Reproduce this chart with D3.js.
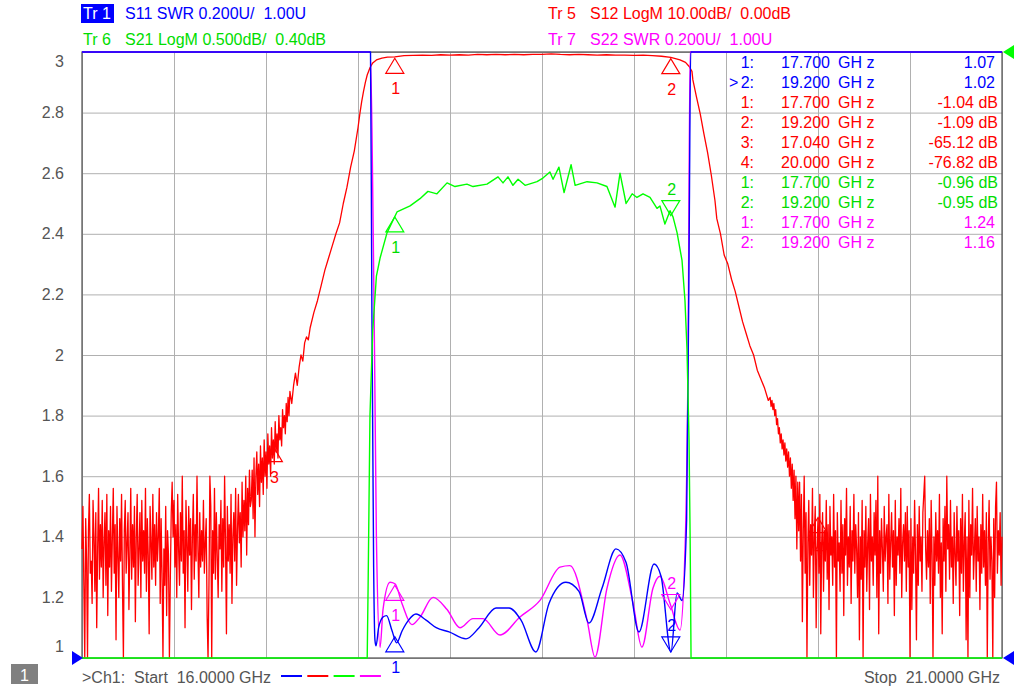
<!DOCTYPE html>
<html>
<head>
<meta charset="utf-8">
<script src="https://cdn.jsdelivr.net/npm/d3@7/dist/d3.min.js"></script>
<style>
body { margin: 0; background: #fff; }
svg text { font-family: "Liberation Sans", Arial, sans-serif; font-size: 16px; white-space: pre; }
</style>
</head>
<body>
<script>
var w = 1014;
var h = 689;
var plotLeft = 82, plotRight = 1002, plotTop = 52, plotBottom = 658;

// sweep
var startGHz = 16, stopGHz = 21;
var noiseStep = 0.005;
var freqGrid = [16, 16.5, 17, 17.5, 18, 18.5, 19, 19.5, 20, 20.5, 21];
var swrTicks = [1, 1.2, 1.4, 1.6, 1.8, 2, 2.2, 2.4, 2.6, 2.8, 3];
var swrTickLabels = ['1', '1.2', '1.4', '1.6', '1.8', '2', '2.2', '2.4', '2.6', '2.8', '3'];

// Tr1 S11 SWR  [GHz, SWR]
var s11 = [
  [16.000, 3.80], [17.560, 3.60], [17.568, 3.00], [17.575, 2.20], [17.585, 1.30], [17.592, 1.06],
  [17.598, 1.04], [17.612, 1.10], [17.636, 1.135], [17.655, 1.14], [17.685, 1.09], [17.710, 1.05],
  [17.740, 1.09], [17.775, 1.125], [17.815, 1.145], [17.870, 1.125], [17.925, 1.10], [17.995, 1.086],
  [18.087, 1.063], [18.158, 1.10], [18.250, 1.165], [18.321, 1.165], [18.386, 1.125], [18.467, 1.02],
  [18.538, 1.18], [18.630, 1.25], [18.701, 1.22], [18.755, 1.115], [18.826, 1.23], [18.902, 1.36],
  [18.957, 1.315], [19.027, 1.086], [19.109, 1.31], [19.147, 1.27], [19.201, 1.02], [19.234, 1.215],
  [19.261, 1.19], [19.286, 1.455], [19.300, 2.40], [19.308, 3.00], [19.320, 3.60], [21.000, 3.80]
];

// Tr7 S22 SWR  [GHz, SWR]
var s22 = [
  [16.000, 3.80], [17.555, 3.60], [17.565, 3.00], [17.590, 2.00], [17.600, 1.40], [17.620, 1.035],
  [17.636, 1.16], [17.674, 1.25], [17.701, 1.245], [17.739, 1.18], [17.793, 1.11], [17.837, 1.135],
  [17.908, 1.20], [17.984, 1.16], [18.054, 1.10], [18.125, 1.13], [18.179, 1.13], [18.272, 1.076],
  [18.380, 1.135], [18.489, 1.19], [18.598, 1.30], [18.652, 1.305], [18.745, 1.125], [18.788, 1.003],
  [18.853, 1.23], [18.924, 1.34], [18.995, 1.18], [19.043, 1.036], [19.103, 1.23], [19.141, 1.27],
  [19.196, 1.18], [19.250, 1.092], [19.277, 1.35], [19.294, 2.00], [19.305, 3.00], [19.315, 3.60],
  [21.000, 3.80]
];

// Tr6 S21 LogM  [GHz, dB]
var s21 = [
  [16.000, -20], [17.550, -20], [17.555, -4.0], [17.565, -2.6], [17.580, -1.9], [17.600, -1.45],
  [17.620, -1.30], [17.658, -1.09], [17.712, -0.92], [17.783, -0.87], [17.837, -0.81], [17.880, -0.75],
  [17.929, -0.77], [17.984, -0.68], [18.027, -0.71], [18.092, -0.69], [18.125, -0.71], [18.201, -0.69],
  [18.261, -0.63], [18.288, -0.68], [18.315, -0.63], [18.342, -0.70], [18.370, -0.65], [18.408, -0.70],
  [18.473, -0.67], [18.505, -0.64], [18.543, -0.59], [18.560, -0.65], [18.592, -0.55], [18.620, -0.76],
  [18.658, -0.53], [18.680, -0.70], [18.745, -0.67], [18.799, -0.68], [18.853, -0.71], [18.897, -0.88],
  [18.924, -0.60], [18.957, -0.85], [18.990, -0.77], [19.016, -0.80], [19.049, -0.77], [19.087, -0.80],
  [19.125, -0.89], [19.141, -0.87], [19.168, -1.02], [19.196, -0.91], [19.212, -0.96], [19.234, -1.09],
  [19.261, -1.32], [19.277, -1.65], [19.288, -2.05], [19.299, -2.80], [19.305, -3.60], [19.310, -20],
  [21.000, -20]
];

// Tr5 S12 LogM, dB. noise floor below the band, from 16.000 GHz every 5 MHz
var s12Low = [
  -82, -75, -88, -100, -77, -84, -100, -79, -73, -86,
  -84, -91, -74, -80, -89, -76, -95, -82, -72, -87,
  -78, -85, -74, -90, -81, -76, -88, -73, -93, -79,
  -85, -75, -89, -80, -72, -86, -78, -97, -75, -83,
  -90, -77, -84, -73, -88, -100, -79, -74, -86, -81,
  -76, -92, -83, -72, -87, -78, -85, -75, -94, -80,
  -73, -88, -82, -76, -90, -74, -84, -79, -86, -72,
  -89, -77, -83, -96, -75, -81, -87, -73, -85, -78,
  -88, -76, -84, -80, -72, -91, -77, -86, -100, -82,
  -88, -75, -93, -79, -83, -100, -87, -76, -71, -80,
  -74, -85, -78, -90, -73, -82, -88, -76, -84, -70,
  -86, -79, -95, -74, -81, -89, -75, -83, -77, -92,
  -80, -73, -87, -78, -84, -70, -82, -90, -76, -85,
  -79, -84, -74, -86, -81, -77, -93, -100, -88, -70,
  -75, -100, -79, -86, -72, -87, -76, -83, -90, -78,
  -82, -74, -89, -77, -85, -70, -81, -96, -75, -84,
  -78, -86, -73, -91, -80, -76, -84, -72, -88, -79,
  -73, -81, -76, -85, -71, -80, -74, -79, -70, -83,
  -72, -78, -69, -75
];
// band edges and passband  [GHz, dB]
var s12Band = [
  [16.920, -74], [16.925, -69], [16.930, -77], [16.935, -67], [16.940, -80], [16.945, -70],
  [16.950, -66], [16.955, -73], [16.960, -68], [16.965, -75], [16.970, -65], [16.975, -71],
  [16.980, -67], [16.985, -73], [16.990, -64], [16.995, -70], [17.000, -66], [17.005, -72],
  [17.010, -63], [17.015, -68], [17.020, -65], [17.025, -70], [17.030, -62], [17.035, -67],
  [17.040, -64], [17.045, -68], [17.050, -61], [17.055, -66], [17.060, -63], [17.065, -67],
  [17.070, -60], [17.075, -64], [17.080, -62], [17.085, -65], [17.090, -59], [17.095, -62],
  [17.100, -60], [17.105, -63], [17.110, -58], [17.115, -61], [17.120, -57], [17.125, -60],
  [17.130, -56], [17.140, -58], [17.150, -55], [17.160, -53], [17.170, -55], [17.180, -52],
  [17.19, -50], [17.20, -51], [17.21, -48], [17.22, -47], [17.23, -47.5], [17.24, -45.5],
  [17.26, -43], [17.28, -41], [17.30, -38.5], [17.32, -36], [17.34, -34], [17.36, -32],
  [17.38, -30], [17.40, -28.2], [17.42, -25], [17.44, -22.3], [17.46, -19], [17.48, -16.3],
  [17.50, -12.5], [17.51, -10.2], [17.52, -8.2], [17.53, -6.5], [17.54, -5.0], [17.55, -3.8],
  [17.565, -2.6], [17.58, -1.8], [17.60, -1.3], [17.63, -1.0], [17.66, -0.85], [17.70, -0.8],
  [17.75, -0.6], [17.80, -0.55], [17.85, -0.5], [17.90, -0.55], [17.95, -0.45], [18.00, -0.5],
  [18.05, -0.45], [18.10, -0.5], [18.15, -0.4], [18.20, -0.45], [18.25, -0.4], [18.30, -0.45],
  [18.35, -0.4], [18.40, -0.45], [18.45, -0.4], [18.50, -0.4], [18.55, -0.3], [18.60, -0.4],
  [18.65, -0.45], [18.70, -0.4], [18.75, -0.45], [18.80, -0.5], [18.85, -0.45], [18.90, -0.5],
  [18.95, -0.5], [19.00, -0.55], [19.05, -0.5], [19.10, -0.6], [19.15, -0.7], [19.20, -0.9],
  [19.22, -1.05], [19.25, -1.3], [19.28, -1.7], [19.30, -2.4], [19.315, -3.2], [19.32, -4.6],
  [19.34, -7.5], [19.36, -10.2], [19.38, -13.5], [19.40, -16.6], [19.42, -20.3], [19.44, -24.5],
  [19.45, -27.5], [19.47, -30], [19.49, -33.5], [19.51, -35], [19.53, -37.5], [19.55, -39.5],
  [19.57, -42], [19.59, -44.5], [19.61, -46.5], [19.63, -48.5], [19.65, -50], [19.67, -52.5],
  [19.69, -54], [19.71, -55.5], [19.73, -57.5], [19.740, -57], [19.745, -58.5], [19.750, -57.5],
  [19.755, -59], [19.760, -58], [19.765, -60], [19.770, -59], [19.775, -61.5], [19.780, -60.5],
  [19.785, -63], [19.790, -62], [19.795, -64.5], [19.800, -63], [19.805, -65.5], [19.810, -64],
  [19.815, -66.5], [19.820, -64.5], [19.825, -67.5], [19.830, -65.5], [19.835, -68.5], [19.840, -66],
  [19.845, -70], [19.850, -67], [19.855, -72], [19.860, -68], [19.865, -74], [19.870, -69],
  [19.875, -77], [19.880, -70], [19.885, -82], [19.890, -71], [19.895, -79]
];
// noise floor above the band, from 19.900 GHz every 5 MHz
var s12High = [
  -71, -84, -73, -94, -79, -70, -86, -76, -100, -81,
  -74, -88, -78, -83, -72, -90, -80, -75, -95, -82,
  -77, -86, -73, -96, -81, -76, -89, -79, -84, -74,
  -87, -78, -92, -75, -83, -80, -88, -73, -85, -79,
  -100, -76, -84, -81, -89, -74, -86, -78, -93, -77,
  -83, -72, -88, -80, -85, -75, -91, -79, -84, -73,
  -86, -78, -82, -90, -76, -97, -80, -87, -74, -100,
  -79, -85, -75, -89, -81, -77, -92, -73, -84, -80,
  -88, -76, -83, -74, -90, -70, -96, -79, -86, -77,
  -82, -89, -75, -84, -80, -78, -91, -73, -87, -81,
  -76, -85, -79, -93, -74, -88, -80, -83, -77, -86,
  -72, -90, -81, -78, -84, -76, -89, -75, -85, -79,
  -100, -77, -92, -80, -86, -74, -83, -97, -78, -88,
  -75, -84, -80, -89, -76, -73, -70, -82, -87, -79,
  -85, -77, -91, -74, -83, -100, -80, -88, -76, -84,
  -79, -86, -73, -90, -81, -96, -77, -84, -75, -89,
  -70, -82, -78, -87, -74, -85, -80, -91, -76, -83,
  -88, -75, -84, -79, -93, -77, -86, -73, -89, -81,
  -76, -97, -80, -100, -74, -90, -78, -83, -72, -87,
  -82, -77, -89, -75, -84, -80, -92, -78, -86, -73,
  -85, -79, -88, -76, -100, -81, -74, -87, -80, -84,
  -100, -77, -90, -75, -71, -86, -79, -83, -76, -88,
  -80
];
var s12 = s12Low.map(function(v, i) { return [startGHz + i * noiseStep, v]; })
  .concat(s12Band)
  .concat(s12High.map(function(v, i) { return [19.9 + i * noiseStep, v]; }));

// markers  [number, GHz, value]
var mkS11 = [[1, 17.7, 1.07], [2, 19.2, 1.02]];
var mkS12 = [[1, 17.7, -1.04], [2, 19.2, -1.09], [3, 17.04, -65.12], [4, 20.0, -76.82]];
var mkS21 = [[1, 17.7, -0.96], [2, 19.2, -0.95]];
var mkS22 = [[1, 17.7, 1.24], [2, 19.2, 1.16]];
var activeMarker = 2;

var blue = '#0000ff', red = '#ff0000', green = '#00ff00', greenText = '#00dd00', magenta = '#ff00ff';
var gray = '#555555';

var svg = d3.select('body')
  .append('svg')
  .attr('width', w)
  .attr('height', h);
svg.append('rect').attr('width', w).attr('height', h).attr('fill', '#fff');

var x = d3.scaleLinear().domain([startGHz, stopGHz]).range([plotLeft, plotRight]);
var ySwr = d3.scaleLinear().domain([1, 3]).range([plotBottom, plotTop]).clamp(true);
var yS21 = d3.scaleLinear().domain([0.4 - 5, 0.4]).range([plotBottom, plotTop]).clamp(true);
var yS12 = d3.scaleLinear().domain([-100, 0]).range([plotBottom, plotTop]).clamp(true);

// grid
svg.append('g')
  .attr('transform', 'translate(0,' + plotBottom + ')')
  .call(d3.axisBottom(x).tickValues(freqGrid).tickSize(-(plotBottom - plotTop)).tickFormat(''))
  .call(function(g) { g.select('.domain').remove(); })
  .call(function(g) { g.selectAll('line').attr('stroke', '#b0b0b0'); });
svg.append('g')
  .attr('transform', 'translate(' + plotLeft + ',0)')
  .call(d3.axisLeft(ySwr).tickValues(swrTicks).tickSize(-(plotRight - plotLeft)).tickFormat(''))
  .call(function(g) { g.select('.domain').remove(); })
  .call(function(g) { g.selectAll('line').attr('stroke', '#b0b0b0'); });

svg.append('rect')
  .attr('x', plotLeft).attr('y', plotTop)
  .attr('width', plotRight - plotLeft).attr('height', plotBottom - plotTop)
  .attr('fill', 'none').attr('stroke', '#505050').attr('stroke-width', 1.2);

// y labels of the active trace
svg.append('g')
  .attr('transform', 'translate(64,0)')
  .call(d3.axisLeft(ySwr).tickValues(swrTicks).tickSize(0).tickPadding(0)
    .tickFormat(function(d, i) { return swrTickLabels[i]; }))
  .call(function(g) { g.select('.domain').remove(); })
  .call(function(g) {
    g.selectAll('text')
      .attr('fill', gray)
      .style('font-size', '16px')
      .attr('y', function(d) { return d === 3 ? 9 : (d === 1 ? -12 : 0); });
  });

// traces
var traces = [
  { data: s12, y: yS12, color: red, curve: d3.curveLinear, width: 1.3 },
  { data: s22, y: ySwr, color: magenta, curve: d3.curveMonotoneX, width: 1.4 },
  { data: s11, y: ySwr, color: blue, curve: d3.curveMonotoneX, width: 1.4 },
  { data: s21, y: yS21, color: green, curve: d3.curveLinear, width: 1.4 }
];
traces.forEach(function(t) {
  var line = d3.line()
    .x(function(d) { return x(d[0]); })
    .y(function(d) { return t.y(d[1]); })
    .curve(t.curve);
  svg.append('path')
    .datum(t.data)
    .attr('d', line)
    .attr('fill', 'none')
    .attr('stroke', t.color)
    .attr('stroke-width', t.width)
    .attr('stroke-linejoin', 'round');
});

// marker triangles
var markerSets = [
  { mk: mkS12, y: yS12, color: red, text: red },
  { mk: mkS22, y: ySwr, color: magenta, text: magenta },
  { mk: mkS11, y: ySwr, color: blue, text: blue },
  { mk: mkS21, y: yS21, color: green, text: greenText }
];
markerSets.forEach(function(s) {
  var g = svg.append('g');
  g.selectAll('path')
    .data(s.mk)
    .enter()
    .append('path')
    .attr('d', function(d) {
      var px = x(d[1]), py = s.y(d[2]);
      var down = d[0] === activeMarker && py - 30 > plotTop;
      var k = down ? -15 : 15;
      return 'M' + px + ',' + py + 'L' + (px - 9) + ',' + (py + k) + 'L' + (px + 9) + ',' + (py + k) + 'Z';
    })
    .attr('fill', 'none')
    .attr('stroke', s.color)
    .attr('stroke-width', 1.2);
  g.selectAll('text')
    .data(s.mk)
    .enter()
    .append('text')
    .attr('x', function(d) { return x(d[1]) + 1; })
    .attr('y', function(d) {
      var py = s.y(d[2]);
      var down = d[0] === activeMarker && py - 30 > plotTop;
      return down ? py - 21 : py + 36;
    })
    .attr('text-anchor', 'middle')
    .attr('fill', s.text)
    .text(function(d) { return d[0]; });
});

// reference level arrows
function refArrow(px, py, dir, color) {
  svg.append('path')
    .attr('d', 'M' + px + ',' + py + 'L' + (px - dir * 11) + ',' + (py - 7) + 'L' + (px - dir * 11) + ',' + (py + 7) + 'Z')
    .attr('fill', color);
}
refArrow(plotLeft + 1, plotBottom, 1, blue);
refArrow(plotRight + 1, plotBottom, -1, blue);
refArrow(plotRight + 1, plotTop, -1, green);

// marker table
var tableRows = [];
[[mkS11, blue, ''], [mkS12, red, ' dB'], [mkS21, greenText, ' dB'], [mkS22, magenta, '']].forEach(function(s, k) {
  s[0].forEach(function(m) {
    tableRows.push({ n: m[0], f: m[1], v: m[2], color: s[1], unit: s[2], active: k === 0 && m[0] === activeMarker });
  });
});
var tab = svg.append('g');
tableRows.forEach(function(r, i) {
  var by = 68 + i * 20;
  if (r.active) {
    tab.append('text').attr('x', 729).attr('y', by).attr('fill', r.color).text('>');
  }
  tab.append('text').attr('x', 754).attr('y', by).attr('text-anchor', 'end').attr('fill', r.color).text(r.n + ':');
  tab.append('text').attr('x', 830).attr('y', by).attr('text-anchor', 'end').attr('fill', r.color).text(r.f.toFixed(3));
  tab.append('text').attr('x', 838).attr('y', by).attr('fill', r.color).text('GH z');
  tab.append('text').attr('x', r.unit ? 998 : 995).attr('y', by).attr('text-anchor', 'end').attr('fill', r.color)
    .text(r.v.toFixed(2) + r.unit);
});

// trace headers
svg.append('rect').attr('x', 81).attr('y', 4).attr('width', 33).attr('height', 19).attr('fill', blue);
var headers = [
  [83, 19, 'Tr 1', '#fff'], [125, 19, 'S11 SWR 0.200U/  1.00U', blue],
  [83, 45, 'Tr 6', greenText], [125, 45, 'S21 LogM 0.500dB/  0.40dB', greenText],
  [548, 19, 'Tr 5', red], [590, 19, 'S12 LogM 10.00dB/  0.00dB', red],
  [548, 45, 'Tr 7', magenta], [590, 45, 'S22 SWR 0.200U/  1.00U', magenta]
];
svg.selectAll('text.hdr')
  .data(headers)
  .enter()
  .append('text')
  .attr('class', 'hdr')
  .attr('x', function(d) { return d[0]; })
  .attr('y', function(d) { return d[1]; })
  .attr('fill', function(d) { return d[3]; })
  .text(function(d) { return d[2]; });

// status line
svg.append('rect').attr('x', 11).attr('y', 664).attr('width', 27).attr('height', 20).attr('fill', '#808080');
svg.append('text').attr('x', 24.5).attr('y', 681).attr('text-anchor', 'middle').attr('fill', '#fff').text('1');
svg.append('text').attr('x', 82).attr('y', 683).attr('fill', gray).text('>Ch1:  Start  16.0000 GHz');
svg.append('text').attr('x', 1000).attr('y', 683).attr('text-anchor', 'end').attr('fill', gray).text('Stop  21.0000 GHz');
[blue, red, green, magenta].forEach(function(c, i) {
  svg.append('line')
    .attr('x1', 281 + i * 26.3).attr('x2', 302 + i * 26.3)
    .attr('y1', 676).attr('y2', 676)
    .attr('stroke', c).attr('stroke-width', 2);
});
</script>
</body>
</html>
